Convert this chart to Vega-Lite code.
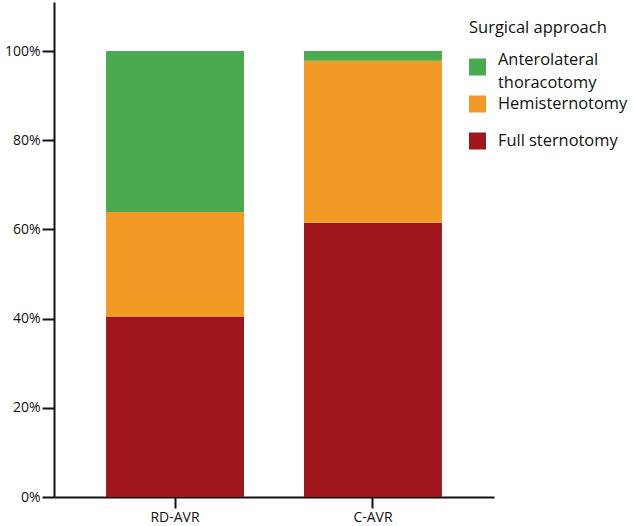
{
  "$schema": "https://vega.github.io/schema/vega-lite/v6.json",
  "width": 440,
  "height": 495,
  "autosize": {"type": "none"},
  "padding": {"left": 54, "top": 2, "right": 139, "bottom": 29},
  "background": "white",
  "config": {
    "view": {"stroke": null},
    "font": "Open Sans",
    "axis": {"domainColor": "#111", "tickColor": "#111", "domainWidth": 2, "tickWidth": 2, "labelColor": "#111", "labelFontSize": 14, "grid": false, "titleFontSize": 14}
  },
  "data": {
    "values": [
      {"group": "RD-AVR", "approach": "Full sternotomy", "value": 0.405, "ord": 1},
      {"group": "RD-AVR", "approach": "Hemisternotomy", "value": 0.234, "ord": 2},
      {"group": "RD-AVR", "approach": "Anterolateral thoracotomy", "value": 0.361, "ord": 3},
      {"group": "C-AVR", "approach": "Full sternotomy", "value": 0.615, "ord": 1},
      {"group": "C-AVR", "approach": "Hemisternotomy", "value": 0.363, "ord": 2},
      {"group": "C-AVR", "approach": "Anterolateral thoracotomy", "value": 0.022, "ord": 3}
    ]
  },
  "mark": {"type": "bar"},
  "encoding": {
    "x": {
      "field": "group", "type": "nominal", "sort": ["RD-AVR", "C-AVR"],
      "scale": {"paddingInner": 0.303, "paddingOuter": 0.263},
      "axis": {"title": null, "labelAngle": 0, "tickSize": 11, "labelPadding": 2}
    },
    "y": {
      "field": "value", "type": "quantitative", "stack": "zero",
      "scale": {"domain": [0, 1.11], "nice": false, "zero": true},
      "axis": {"title": null, "values": [0, 0.2, 0.4, 0.6, 0.8, 1.0], "format": ".0%", "tickSize": 12, "labelPadding": 2}
    },
    "order": {"field": "ord", "type": "quantitative"},
    "color": {
      "field": "approach", "type": "nominal",
      "scale": {
        "domain": ["Anterolateral thoracotomy", "Hemisternotomy", "Full sternotomy"],
        "range": ["#49AA4E", "#F29A26", "#A0161D"]
      },
      "legend": {
        "title": "Surgical approach",
        "orient": "none",
        "legendX": 415,
        "legendY": 18,
        "titleFontSize": 16.5,
        "titleFontWeight": "normal",
        "titleColor": "#111",
        "titlePadding": 22,
        "labelFontSize": 16.4,
        "labelColor": "#111",
        "labelOffset": 12,
        "symbolType": "square",
        "symbolSize": 289,
        "symbolStrokeWidth": 0,
        "symbolOpacity": 1,
        "rowPadding": 20,
        "labelLimit": 200,
        "labelExpr": "datum.label == 'Anterolateral thoracotomy' ? 'Anterolateral' : datum.label",
        "encode": {"labels": {"update": {"dy": {"signal": "datum.value == 'Anterolateral thoracotomy' ? -7 : 0"}}}}
      }
    },
    "strokeDash": {
      "datum": "thoracotomy",
      "legend": {
        "title": null,
        "orient": "none",
        "legendX": 415,
        "legendY": 72,
        "labelFontSize": 16.4,
        "labelColor": "#111",
        "labelOffset": 12,
        "symbolType": "square",
        "symbolSize": 289,
        "symbolStrokeWidth": 0,
        "symbolOpacity": 0,
        "symbolFillColor": "transparent",
        "labelLimit": 200
      }
    }
  }
}
